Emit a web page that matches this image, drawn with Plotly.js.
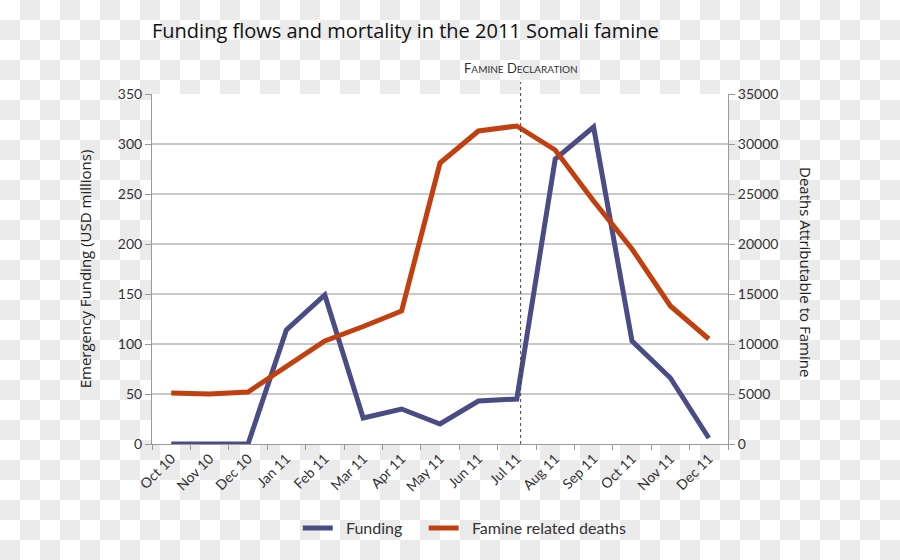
<!DOCTYPE html>
<html>
<head>
<meta charset="utf-8">
<script src="https://cdn.plot.ly/plotly-3.0.1.min.js"></script>
<style>
  html, body { margin:0; padding:0; width:900px; height:560px; overflow:hidden;
    background: repeating-conic-gradient(#ebebeb 0 25%, #ffffff 0 50%) 0 0 / 40px 40px; }
  #chart { width:900px; height:560px; }
</style>
</head>
<body>
<div id="chart"></div>
<script>
const months = ["Oct 10","Nov 10","Dec 10","Jan 11","Feb 11","Mar 11","Apr 11","May 11","Jun 11","Jul 11","Aug 11","Sep 11","Oct 11","Nov 11","Dec 11"];
const funding = [0, 0, 0, 114, 149, 26, 35, 20, 43, 45, 285, 317, 103, 66, 6];
const deaths = [5100, 5000, 5200, 7700, 10300, 11750, 13300, 28100, 31300, 31800, 29400, 24300, 19500, 13800, 10500];
const declarationPos = 9.1;

const tickFont = {family: "Lato, 'Open Sans', sans-serif", size: 14, color: "#333"};
const traces = [
  {x: months, y: funding, name: "&nbsp;&nbsp;Funding&nbsp;&nbsp;&nbsp;&nbsp;", type: "scatter", mode: "lines",
   line: {color: "#4b4c85", width: 5}, yaxis: "y"},
  {x: months, y: deaths, name: "&nbsp;&nbsp;Famine related deaths", type: "scatter", mode: "lines",
   line: {color: "#c2400f", width: 5}, yaxis: "y2"}
];
const layout = {
  width: 900, height: 560,
  margin: {l: 152, r: 172, t: 94, b: 116},
  paper_bgcolor: "rgba(0,0,0,0)",
  plot_bgcolor: "#ffffff",
  title: {text: "Funding flows and mortality in the 2011 Somali famine",
    font: {family: "'Open Sans', sans-serif", size: 20, color: "#111"},
    x: 152/900, xanchor: "left", y: 1 - 31/560, yanchor: "middle"},
  xaxis: {type: "category", range: [-0.5, 14.5], tickson: "boundaries",
    ticks: "outside", ticklen: 5, tickcolor: "#999", showline: true, linecolor: "#999", linewidth: 1,
    showgrid: false, tickangle: -45, tickfont: tickFont},
  yaxis: {range: [0, 350], dtick: 50, ticks: "outside", ticklen: 6, tickcolor: "#999",
    showline: true, linecolor: "#999", gridcolor: "#c8c8c8", gridwidth: 1.5, zeroline: false,
    tickfont: tickFont,
    title: {text: "Emergency Funding (USD millions)", standoff: 22,
      font: {family: "'Open Sans', sans-serif", size: 15, color: "#222"}}},
  yaxis2: {range: [0, 35000], dtick: 5000, tickformat: "d", overlaying: "y", side: "right",
    ticks: "outside", ticklen: 6, tickcolor: "#999", showline: true, linecolor: "#999",
    showgrid: false, zeroline: false, tickfont: tickFont},
  legend: {orientation: "h", x: 0.543, xanchor: "center", y: -0.24, yanchor: "middle",
    font: {family: "Lato, 'Open Sans', sans-serif", size: 16, color: "#333"},
    bgcolor: "rgba(0,0,0,0)", itemwidth: 30, traceorder: "normal"},
  shapes: [{type: "line", xref: "x", yref: "paper", x0: declarationPos, x1: declarationPos,
    y0: 0, y1: 1.034, line: {color: "#444", width: 1, dash: "dot"}}],
  annotations: [
    {xref: "x", yref: "paper", x: declarationPos, y: 1 + 26/350, yanchor: "middle",
     xanchor: "center", showarrow: false,
     text: "F<span style='font-size:10px'>AMINE</span> D<span style='font-size:10px'>ECLARATION</span>",
     font: {family: "Lato, 'Open Sans', sans-serif", size: 13, color: "#333"}},
    {xref: "paper", yref: "paper", x: (806 - 152) / 576, y: (444 - 272) / 350,
     xanchor: "center", yanchor: "middle", showarrow: false, textangle: 90,
     text: "Deaths Attributable to Famine",
     font: {family: "'Open Sans', sans-serif", size: 15, color: "#222"}}
  ]
};
Plotly.newPlot("chart", traces, layout, {displayModeBar: false, responsive: false});
</script>
</body>
</html>
